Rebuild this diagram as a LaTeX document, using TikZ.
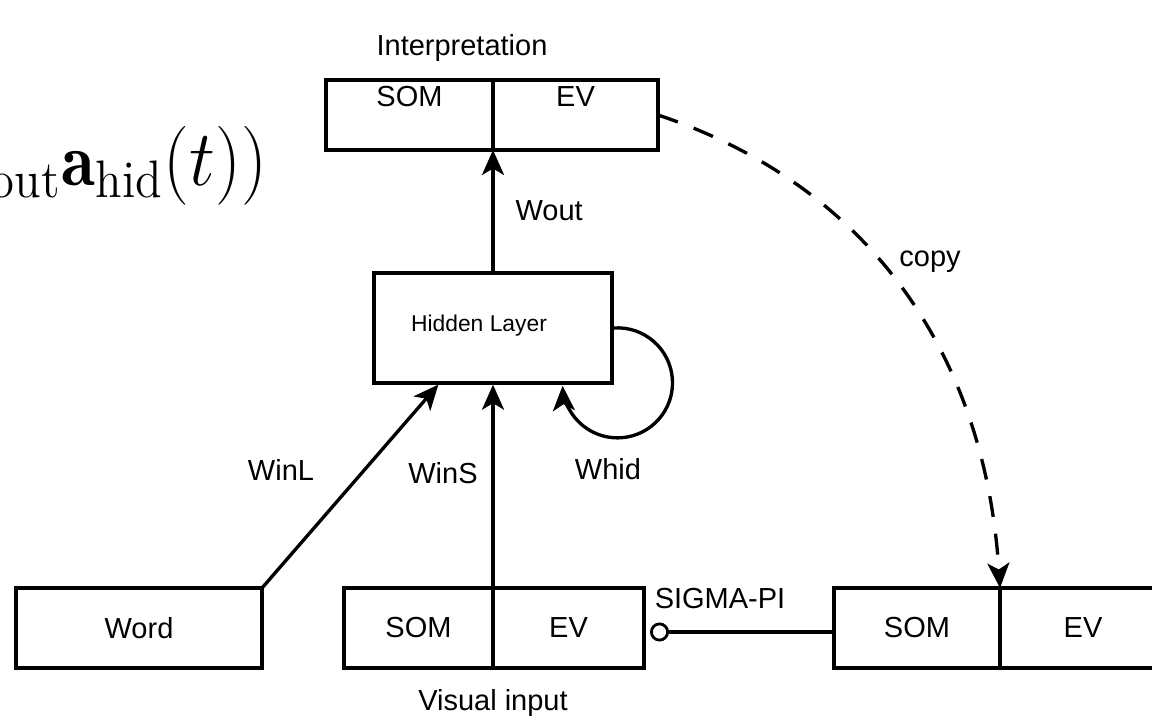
\documentclass[tikz,border=0pt]{standalone}
\usepackage{amsmath,amssymb}
\usepackage{fontspec}
\setsansfont{Liberation Sans}
\usetikzlibrary{positioning,calc,arrows.meta}

\begin{document}
\begin{tikzpicture}[
    font=\sffamily\fontsize{16.5}{19}\selectfont,
    >={Stealth[length=5mm,width=4.4mm,inset=1.3mm]},
    part/.style={draw, line width=1.9pt, inner sep=0pt, outer sep=0pt, minimum width=3.34cm, minimum height=1.6cm},
    toppart/.style={part, minimum height=1.4cm, text height=0.36cm, text depth=0.68cm},
    box/.style={draw, line width=1.9pt, minimum width=4.76cm, minimum height=2.2cm},
    arrow/.style={->, line width=1.9pt},
    copyline/.style={->, line width=1.9pt, dash pattern=on 0.42cm off 0.34cm}
]
\useasboundingbox (0,0) rectangle (23.04,14.54);
% formula cut at the left border
\node[anchor=east, inner sep=0pt, xscale=2.4, yscale=2.6] (formula) at (5.36,11.22) {$_{\mathrm{out}}\mathbf{a}_{\mathrm{hid}}(t))$};

% interpretation (top)
\node[toppart, anchor=east] (isom) at (9.86,12.24) {SOM};
\node[toppart, anchor=west, minimum width=3.3cm] (iev) at (9.86,12.24) {EV};
\node (interp) at (9.24,13.58) {Interpretation};

% hidden layer
\node[box] (hidden) at (9.86,7.98) {};
\node[font=\sffamily\fontsize{13}{15}\selectfont] (hiddentext) at (9.58,8.02) {Hidden Layer};

% inputs (bottom)
\node[part, minimum width=4.92cm] (word) at (2.78,1.98) {Word};
\node[part, anchor=east, minimum width=2.98cm] (vsom) at (9.86,1.98) {SOM};
\node[part, anchor=west, minimum width=3.02cm] (vev) at (9.86,1.98) {EV};
\node (visual) at (9.86,0.48) {Visual input};
\node[part, anchor=east, minimum width=3.32cm] (rsom) at (20.0,1.98) {SOM};
\node[part, anchor=west, minimum width=3.32cm] (rev) at (20.0,1.98) {EV};

% connections
\coordinate (winlend) at ([xshift=1.32cm]hidden.south west);
\draw[arrow] (hidden.north) -- node[right=0.3cm] (wout) {Wout} (isom.south east);
\draw[arrow] (vsom.north east) -- (hidden.south);
\node (wins) at (8.86,5.08) {WinS};
\draw[arrow] (word.north east) -- (winlend);
\node (winl) at (5.62,5.14) {WinL};
\draw[arrow] (hidden.east) arc[start angle=94, end angle=-177, radius=1.1];
\node (whid) at (12.16,5.16) {Whid};
\draw[copyline] (iev.east) .. controls +(4.2,-1.4) and +(-0.3,4.7) .. (rsom.north east);
\node (copy) at (18.6,9.3) {copy};
\draw[line width=1.9pt, -{Circle[open,length=3.8mm,line width=1.6pt]}] ([yshift=-0.08cm]rsom.west) -- ([yshift=-0.08cm,xshift=0.12cm]vev.east);
\node (sigma) at (14.4,2.56) {SIGMA-PI};
\end{tikzpicture}
\end{document}
